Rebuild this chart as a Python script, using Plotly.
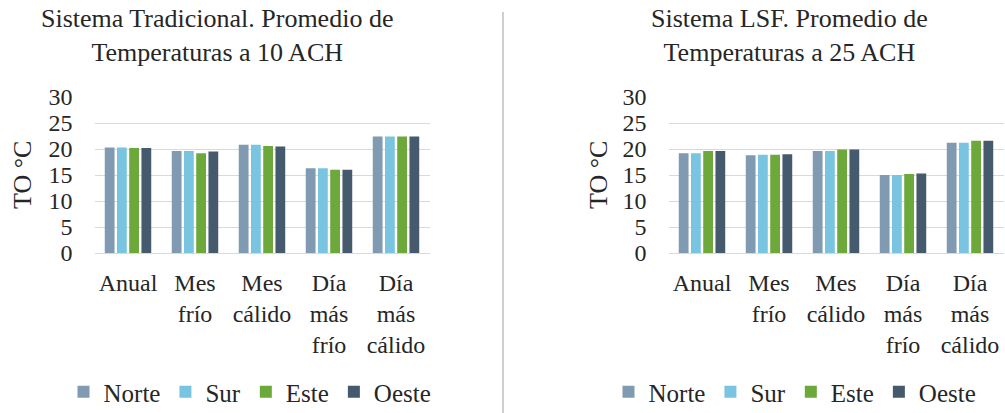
import plotly.graph_objects as go

categories = ["Anual", "Mes<br>frío", "Mes<br>cálido", "Día<br>más<br>frío", "Día<br>más<br>cálido"]
series_names = ["Norte", "Sur", "Este", "Oeste"]
colors = ["#7F9AB1", "#79C4E0", "#6CA83A", "#465A6E"]

trad_norte = [20.3, 19.6, 20.8, 16.3, 22.4]
trad_sur = [20.3, 19.6, 20.8, 16.3, 22.4]
trad_este = [20.2, 19.2, 20.6, 16.0, 22.4]
trad_oeste = [20.2, 19.5, 20.5, 16.0, 22.4]

lsf_norte = [19.2, 18.8, 19.6, 15.0, 21.2]
lsf_sur = [19.2, 18.9, 19.6, 15.0, 21.2]
lsf_este = [19.6, 18.9, 19.9, 15.2, 21.6]
lsf_oeste = [19.6, 19.0, 19.9, 15.3, 21.6]

title_left = "Sistema Tradicional. Promedio de<br>Temperaturas a 10 ACH"
title_right = "Sistema LSF. Promedio de<br>Temperaturas a 25 ACH"
y_title = "TO °C"
y_ticks = [0, 5, 10, 15, 20, 25, 30]

FONT = "Liberation Serif, Times New Roman, serif"
TXT = "#262626"
W, H = 1005, 413

fig = go.Figure()
trad = [trad_norte, trad_sur, trad_este, trad_oeste]
lsf = [lsf_norte, lsf_sur, lsf_este, lsf_oeste]
for i, name in enumerate(series_names):
    fig.add_trace(go.Bar(x=categories, y=trad[i], name=name, marker_color=colors[i],
                         marker_line_width=0, xaxis="x", yaxis="y", legend="legend"))
for i, name in enumerate(series_names):
    fig.add_trace(go.Bar(x=categories, y=lsf[i], name=name, marker_color=colors[i],
                         marker_line_width=0, xaxis="x2", yaxis="y2", legend="legend2"))

def px_x(p):
    return p / W

def px_y(p):
    return 1 - p / H

ydom = [px_y(253), px_y(97)]
axis_common_y = dict(range=[0, 30], tickvals=y_ticks, showgrid=True, gridcolor="#D9D9D9",
                     gridwidth=1.3, zeroline=False, showline=False, automargin=False,
                     tickfont=dict(family=FONT, size=24, color=TXT),
                     ticklabelstandoff=21, fixedrange=True)
axis_common_x = dict(showline=True, linecolor="#D9D9D9", linewidth=1.3, showgrid=False,
                     automargin=False,
                     tickfont=dict(family=FONT, size=24, color=TXT),
                     ticklabelstandoff=8, fixedrange=True)

legend_common = dict(orientation="h", xanchor="center", yanchor="middle",
                     font=dict(family=FONT, size=25, color=TXT), itemwidth=30,
                     tracegroupgap=0, bgcolor="rgba(0,0,0,0)")

fig.update_layout(
    template="none",
    width=W, height=H,
    margin=dict(l=0, r=0, t=0, b=0, autoexpand=False),
    paper_bgcolor="white", plot_bgcolor="white",
    barmode="group", bargap=0.27, bargroupgap=0.2,
    font=dict(family=FONT, size=26, color=TXT),
    xaxis=dict(domain=[px_x(94.5), px_x(429.5)], anchor="y", **axis_common_x),
    yaxis=dict(domain=ydom, anchor="x", **axis_common_y),
    xaxis2=dict(domain=[px_x(668.5), px_x(1003.5)], anchor="y2", **axis_common_x),
    yaxis2=dict(domain=ydom, anchor="x2", **axis_common_y),
    legend=dict(x=px_x(250), y=px_y(392), **legend_common),
    legend2=dict(x=px_x(795), y=px_y(392), **legend_common),
    showlegend=True,
)

fig.add_annotation(text=title_left, x=px_x(217), y=px_y(35), xref="paper", yref="paper",
                   showarrow=False, xanchor="center", yanchor="middle",
                   font=dict(family=FONT, size=26, color=TXT))
fig.add_annotation(text=title_right, x=px_x(789), y=px_y(35), xref="paper", yref="paper",
                   showarrow=False, xanchor="center", yanchor="middle",
                   font=dict(family=FONT, size=26, color=TXT))
fig.add_annotation(text=y_title, x=px_x(22), y=px_y(175), xref="paper", yref="paper",
                   showarrow=False, textangle=-90, xanchor="center", yanchor="middle",
                   font=dict(family=FONT, size=26, color=TXT))
fig.add_annotation(text=y_title, x=px_x(598), y=px_y(175), xref="paper", yref="paper",
                   showarrow=False, textangle=-90, xanchor="center", yanchor="middle",
                   font=dict(family=FONT, size=26, color=TXT))

fig.add_shape(type="line", xref="paper", yref="paper", x0=px_x(503), x1=px_x(503),
              y0=0, y1=px_y(12), line=dict(color="#BFBFBF", width=1.5))

fig.write_html("out.html", config={"displayModeBar": False},
               post_script="document.body.style.margin='0';document.body.style.overflow='hidden';")
